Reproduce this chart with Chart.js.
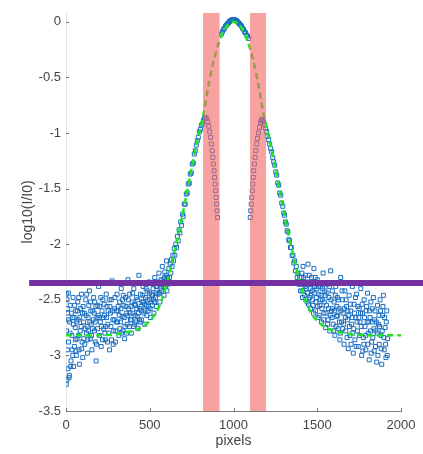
<!DOCTYPE html>
<html>
<head>
<meta charset="utf-8">
<script src="https://cdn.jsdelivr.net/npm/chart.js@4/dist/chart.umd.min.js"></script>
<style>
  body { margin: 0; background: #fff; }
  canvas { display: block; }
</style>
</head>
<body>
<canvas id="chart" width="423" height="454"></canvas>
<script>
// axis ticks
const xTicks = [0, 500, 1000, 1500, 2000];
const yTicks = [-3.5, -3, -2.5, -2, -1.5, -1, -0.5, 0];

// fitted curve
const fitX = [0, 100, 200, 300, 400, 450, 500, 540, 570, 600, 630, 660, 690, 720, 750, 780, 800, 820, 850, 880, 910, 940, 970, 1000,
  1030, 1060, 1090, 1120, 1150, 1180, 1200, 1220, 1250, 1280, 1310, 1340, 1370, 1400, 1430, 1460, 1500, 1550, 1600, 1700, 1800, 1900, 2010];
const fitY = [-2.82, -2.82, -2.82, -2.81, -2.78, -2.75, -2.69, -2.61, -2.51, -2.36, -2.18, -1.99, -1.78, -1.55, -1.32, -1.10, -0.97, -0.84, -0.58, -0.36, -0.2, -0.09, -0.02, 0,
  -0.02, -0.09, -0.2, -0.36, -0.58, -0.84, -0.97, -1.10, -1.32, -1.55, -1.78, -1.99, -2.18, -2.36, -2.51, -2.61, -2.69, -2.75, -2.78, -2.81, -2.82, -2.82, -2.82];

// measured points, left background
const tailLeft = [[5,-3.22],[12,-3.12],[8,-2.95],[3,-2.78],[10,-2.62],[6,-2.5],[15,-2.88],[20,-3.18],[22,-2.7],[25,-2.55],[30,-3.05],[35,-2.82],
  [38,-2.66],[42,-2.48],[45,-3.1],[50,-2.92],[55,-2.75],[58,-2.6],[62,-3.0],[66,-2.85],[70,-2.52],[72,-2.68],[78,-2.95],[80,-3.08],[85,-2.78],
  [88,-2.58],[92,-2.45],[96,-2.88],[100,-3.02],[105,-2.7],[110,-2.62],[112,-2.9],[118,-2.5],[122,-2.8],[128,-2.98],[132,-2.66],[136,-2.55],
  [140,-2.42],[145,-2.85],[150,-2.72],[155,-2.95],[160,-2.6],[165,-2.48],[170,-2.78],[175,-2.88],[180,-3.05],[185,-2.66],[190,-2.55],[195,-2.38],
  [200,-2.82],[205,-2.7],[210,-2.92],[215,-2.6],[220,-2.5],[225,-2.76],[230,-2.64],[235,-2.86],[240,-2.45],[245,-2.56],[250,-2.72],[255,-2.8],
  [260,-2.95],[265,-2.62],[270,-2.5],[275,-2.33],[280,-2.68],[285,-2.78],[290,-2.58],[295,-2.88],[300,-2.7],[305,-2.45],[310,-2.6],[315,-2.82],
  [320,-2.52],[325,-2.7],[330,-2.4],[335,-2.65],[340,-2.78],[345,-2.55],[350,-2.85],[355,-2.48],[360,-2.62],[365,-2.72],[370,-2.32],[375,-2.58],
  [380,-2.45],[385,-2.68],[390,-2.8],[395,-2.52],[400,-2.62],[405,-2.4],[410,-2.72],[415,-2.55],[420,-2.48],[425,-2.65],[430,-2.76],[435,-2.28],
  [440,-2.58],[445,-2.45],[450,-2.68],[455,-2.52],[460,-2.38],[465,-2.62],[470,-2.72],[475,-2.48],[480,-2.55],[485,-2.42],[490,-2.6],[495,-2.34],
  [500,-2.5],[505,-2.66],[510,-2.45],[515,-2.55],[520,-2.4],[525,-2.62],[530,-2.3],[535,-2.48],[540,-2.56],[545,-2.38],[550,-2.45],[555,-2.26],
  [560,-2.52],[565,-2.35],[570,-2.42],[575,-2.2],[580,-2.32],[585,-2.46],[590,-2.25],[595,-2.38],[600,-2.15],
  [2,-3.26],[18,-3.2],[28,-3.1],[40,-3.0],[60,-2.96],[2,-2.45],[14,-2.44],
  [48,-2.66],[74,-2.82],[102,-2.56],[126,-2.74],[148,-2.6],[172,-2.52],[198,-2.66],[218,-2.86],[238,-2.74],[262,-2.56],[282,-2.9],[302,-2.6],
  [322,-2.76],[342,-2.46],[362,-2.8],[382,-2.62],[402,-2.74],[422,-2.58],[442,-2.7],[462,-2.52],[482,-2.64],[502,-2.58],[522,-2.5],[542,-2.44],
  [562,-2.4],[582,-2.38],
  [8,-2.58],[16,-2.68],[24,-2.8],[32,-2.62],[36,-2.95],[44,-2.72],[52,-2.55],[56,-2.86],[64,-2.7],[68,-2.6],[76,-2.48],[82,-2.66],[90,-2.74],
  [94,-2.94],[98,-2.62],[106,-2.85],[114,-2.76],[120,-2.64],[124,-2.45],[130,-2.86],[134,-2.78],[142,-2.7],[146,-2.52],[152,-2.82],[158,-2.76],
  [162,-2.68],[168,-2.62],[174,-2.7],[178,-2.56],[182,-2.9],[188,-2.76],[192,-2.64],[202,-2.56],[208,-2.48],[212,-2.74],[222,-2.66],[228,-2.54],
  [232,-2.8],[242,-2.66],[248,-2.88],[252,-2.6],[258,-2.5],[268,-2.74],[272,-2.86],[278,-2.6],[288,-2.68],[292,-2.48],[298,-2.78],[308,-2.7],
  [312,-2.56],[318,-2.64],[328,-2.58],[332,-2.8],[338,-2.5],[348,-2.66],[352,-2.74],[358,-2.56],[368,-2.64],[372,-2.5],[378,-2.74],[388,-2.56],
  [392,-2.68],[398,-2.44],[408,-2.54],[412,-2.64],[418,-2.7],[428,-2.5],[432,-2.62],[438,-2.68],[448,-2.56],[452,-2.6],[458,-2.46],[468,-2.54],
  [472,-2.6],[478,-2.4],[488,-2.5],[492,-2.56],[498,-2.44],[508,-2.52],[518,-2.46],[528,-2.52],[538,-2.38],[548,-2.34],[558,-2.44],[568,-2.32],
  [578,-2.36],[588,-2.3],[598,-2.28]];

// measured points, right background
const tailRight = [[1405,-2.3],[1410,-2.42],[1415,-2.2],[1420,-2.36],[1425,-2.46],[1430,-2.28],[1435,-2.4],[1440,-2.52],[1445,-2.18],[1450,-2.35],
  [1455,-2.48],[1460,-2.58],[1465,-2.3],[1470,-2.42],[1475,-2.55],[1480,-2.22],[1485,-2.38],[1490,-2.6],[1495,-2.48],[1500,-2.32],[1505,-2.66],
  [1510,-2.45],[1515,-2.55],[1520,-2.38],[1525,-2.7],[1530,-2.5],[1535,-2.26],[1540,-2.62],[1545,-2.42],[1550,-2.75],[1555,-2.55],[1560,-2.36],
  [1565,-2.68],[1570,-2.48],[1575,-2.78],[1580,-2.24],[1585,-2.6],[1590,-2.42],[1595,-2.72],[1600,-2.52],[1605,-2.82],[1610,-2.38],[1615,-2.65],
  [1620,-2.48],[1625,-2.76],[1630,-2.58],[1635,-2.86],[1640,-2.3],[1645,-2.7],[1650,-2.5],[1655,-2.62],[1660,-2.9],[1665,-2.42],[1670,-2.78],
  [1675,-2.56],[1680,-2.68],[1685,-2.94],[1690,-2.46],[1695,-2.82],[1700,-2.6],[1705,-2.72],[1710,-2.38],[1715,-2.98],[1720,-2.54],[1725,-2.86],
  [1730,-2.66],[1735,-2.45],[1740,-2.78],[1745,-2.92],[1750,-2.58],[1755,-2.7],[1760,-2.4],[1765,-3.0],[1770,-2.62],[1775,-2.84],[1780,-2.5],
  [1785,-2.74],[1790,-2.95],[1795,-2.56],[1800,-2.44],[1805,-2.8],[1810,-3.04],[1815,-2.66],[1820,-2.52],[1825,-2.88],[1830,-2.7],[1835,-2.48],
  [1840,-2.96],[1845,-2.6],[1850,-2.78],[1855,-3.06],[1860,-2.55],[1865,-2.72],[1870,-2.9],[1875,-2.5],[1880,-2.82],[1885,-3.08],[1890,-2.64],
  [1895,-2.46],[1900,-2.95],[1905,-2.75],[1910,-3.02],[1915,-2.6],[1920,-2.85],
  [1458,-2.4],[1518,-2.5],[1548,-2.46],[1588,-2.66],[1618,-2.56],[1658,-2.72],[1688,-2.64],[1718,-2.76],[1748,-2.66],[1778,-2.9],[1808,-2.7],
  [1838,-2.76],[1868,-2.64],[1898,-2.84],
  [1402,-2.36],[1408,-2.26],[1412,-2.48],[1418,-2.3],[1428,-2.38],[1432,-2.5],[1438,-2.34],[1442,-2.44],[1448,-2.54],[1452,-2.28],[1462,-2.46],
  [1468,-2.36],[1472,-2.5],[1478,-2.62],[1482,-2.44],[1488,-2.3],[1492,-2.52],[1498,-2.4],[1502,-2.56],[1508,-2.38],[1512,-2.64],[1522,-2.46],
  [1528,-2.58],[1532,-2.4],[1538,-2.68],[1542,-2.52],[1552,-2.62],[1558,-2.44],[1562,-2.72],[1568,-2.58],[1572,-2.38],[1578,-2.64],[1582,-2.5],
  [1592,-2.58],[1598,-2.78],[1602,-2.6],[1608,-2.46],[1612,-2.74],[1622,-2.64],[1628,-2.5],[1632,-2.7],[1638,-2.8],[1642,-2.6],[1648,-2.42],
  [1652,-2.76],[1662,-2.58],[1668,-2.66],[1672,-2.5],[1678,-2.84],[1682,-2.6],[1692,-2.74],[1698,-2.54],[1702,-2.9],[1708,-2.66],[1712,-2.8],
  [1722,-2.62],[1728,-2.48],[1732,-2.92],[1738,-2.7],[1742,-2.56],[1752,-2.82],[1758,-2.62],[1762,-2.74],[1768,-2.54],[1772,-2.96],[1782,-2.66],
  [1788,-2.82],[1792,-2.6],[1798,-2.7],[1802,-2.9],[1812,-2.6],[1818,-2.78],[1822,-2.98],[1828,-2.58],[1832,-2.84],[1842,-2.68],[1848,-2.92],
  [1852,-2.7],[1858,-2.8],[1862,-3.0],[1872,-2.74],[1878,-2.6],[1882,-2.94],[1888,-2.78],[1892,-2.56],[1902,-2.66],[1908,-2.9],[1912,-2.7],
  [1918,-3.0]];

// measured points on the flanks and the peak
const slopeLeft = [[603,-2.42],[606,-2.3],[610,-2.36],[614,-2.22],[618,-2.3],[622,-2.18],[626,-2.26],[630,-2.14],[634,-2.2],[638,-2.1],[642,-2.15],
  [646,-2.04],[650,-2.1],[655,-2.0],[660,-2.03],[665,-1.93],[670,-1.97],[675,-1.87],[680,-1.9],[685,-1.8],[690,-1.83],[695,-1.73],[700,-1.75],
  [706,-1.64],[712,-1.64],[718,-1.55],[724,-1.54],[730,-1.46],[736,-1.45],[742,-1.37],[748,-1.36],[754,-1.28],[760,-1.27],[766,-1.19],[772,-1.16],
  [778,-1.11],[784,-1.07],[790,-1.04],[796,-0.99],[802,-0.97],[808,-0.93],[814,-0.92],[820,-0.89],[826,-0.87],[832,-0.86]];
const slopeRight = [[1168,-0.88],[1174,-0.89],[1180,-0.9],[1186,-0.93],[1192,-0.96],[1198,-0.99],[1204,-1.03],[1210,-1.06],[1216,-1.1],[1222,-1.14],
  [1228,-1.17],[1234,-1.22],[1240,-1.26],[1246,-1.29],[1252,-1.35],[1258,-1.38],[1264,-1.45],[1270,-1.47],[1276,-1.54],[1282,-1.56],[1288,-1.63],
  [1294,-1.66],[1300,-1.72],[1305,-1.74],[1310,-1.8],[1315,-1.82],[1320,-1.88],[1325,-1.89],[1330,-1.96],[1335,-1.97],[1340,-2.03],[1345,-2.03],
  [1350,-2.1],[1355,-2.1],[1360,-2.17],[1365,-2.15],[1370,-2.24],[1375,-2.2],[1380,-2.3],[1385,-2.26],[1390,-2.36],[1395,-2.3],[1400,-2.42]];
const peak = [[928,-0.11],[934,-0.09],[940,-0.07],[946,-0.06],[952,-0.04],[958,-0.03],[964,-0.02],[970,-0.01],[976,0.0],[982,0.01],[988,0.01],
  [994,0.02],[1000,0.02],[1006,0.02],[1012,0.01],[1018,0.01],[1024,0.0],[1030,-0.01],[1036,-0.02],[1042,-0.03],[1048,-0.04],[1054,-0.06],
  [1060,-0.07],[1066,-0.09],[1072,-0.1],[1078,-0.12],[1084,-0.13],[1090,-0.15]];
const dipLeft = [[840,-0.87],[846,-0.9],[852,-0.94],[858,-0.99],[863,-1.04],[868,-1.1],[872,-1.16],[876,-1.22],[880,-1.28],[884,-1.34],[887,-1.4],
  [890,-1.46],[893,-1.52],[896,-1.58],[899,-1.64],[902,-1.7],[905,-1.76]];
const dipRight = [[1100,-1.76],[1103,-1.7],[1106,-1.64],[1109,-1.58],[1112,-1.52],[1115,-1.46],[1118,-1.4],[1121,-1.34],[1125,-1.28],[1129,-1.22],
  [1133,-1.16],[1138,-1.1],[1143,-1.05],[1149,-1.0],[1155,-0.95],[1161,-0.91],[1166,-0.89]];

// masked bands and threshold
const bands = [[818, 918], [1098, 1194]];
const thresholdY = -2.35;
const thresholdX = [-220, 2150];

const yTop = 0.08;

function toPts(pairs) {
    return pairs.map(function (p) { return { x: p[0], y: p[1] }; });
}

const allPoints = toPts([].concat(tailLeft, slopeLeft, dipLeft, peak, dipRight, slopeRight, tailRight));
const fitPoints = fitX.map(function (x, i) { return { x: x, y: fitY[i] }; });

const datasets = [];

datasets.push({
    type: "line",
    data: [{ x: thresholdX[0], y: thresholdY }, { x: thresholdX[1], y: thresholdY }],
    borderColor: "#7331a3",
    borderWidth: 6,
    pointRadius: 0,
    clip: false,
    order: 0
});

bands.forEach(function (b) {
    datasets.push({
        type: "line",
        data: [{ x: b[0], y: yTop }, { x: b[1], y: yTop }],
        borderWidth: 0,
        pointRadius: 0,
        fill: "start",
        backgroundColor: "rgba(242,104,104,0.62)",
        order: 1
    });
});

datasets.push({
    type: "line",
    data: fitPoints,
    borderColor: "#1fe61f",
    borderWidth: 2.5,
    borderDash: [6, 4],
    pointRadius: 0,
    tension: 0.3,
    order: 2
});

datasets.push({
    type: "scatter",
    data: allPoints,
    pointStyle: "rect",
    pointRadius: 2.8,
    borderWidth: 1,
    borderColor: "#1c6fc2",
    backgroundColor: "rgba(0,0,0,0)",
    order: 3
});

const innerTicks = {
    id: "innerTicks",
    afterDraw(chart) {
        const ctx = chart.ctx;
        const xs = chart.scales.x;
        const ys = chart.scales.y;
        const area = chart.chartArea;
        ctx.save();
        ctx.strokeStyle = "#777";
        ctx.lineWidth = 1;
        ctx.beginPath();
        xTicks.forEach(function (v) {
            const px = Math.round(xs.getPixelForValue(v)) + 0.5;
            ctx.moveTo(px, area.bottom);
            ctx.lineTo(px, area.bottom - 3);
        });
        yTicks.forEach(function (v) {
            const py = Math.round(ys.getPixelForValue(v)) + 0.5;
            ctx.moveTo(area.left, py);
            ctx.lineTo(area.left + 3, py);
        });
        ctx.stroke();
        ctx.restore();
    }
};

const tickFont = { family: "'Liberation Sans', Arial, sans-serif", size: 13 };

new Chart(document.getElementById("chart"), {
    type: "scatter",
    data: { datasets: datasets },
    options: {
        responsive: false,
        animation: false,
        layout: { padding: { left: 0, top: 7, right: 22, bottom: 0 } },
        plugins: {
            legend: { display: false },
            tooltip: { enabled: false }
        },
        scales: {
            x: {
                type: "linear",
                min: 0,
                max: 2000,
                afterFit: function (scale) { scale.height = 43; },
                afterBuildTicks: function (scale) { scale.ticks = xTicks.map(function (v) { return { value: v }; }); },
                grid: { drawOnChartArea: false, drawTicks: false },
                border: { color: "#7a7a7a", width: 1 },
                ticks: {
                    padding: 7,
                    color: "#444",
                    font: tickFont,
                    maxRotation: 0,
                    callback: function (v) { return String(v); }
                },
                title: {
                    display: true,
                    text: "pixels",
                    color: "#444",
                    font: { family: "'Liberation Sans', Arial, sans-serif", size: 14 },
                    padding: { top: 0, bottom: 4 }
                }
            },
            y: {
                type: "linear",
                min: -3.5,
                max: yTop,
                afterFit: function (scale) { scale.width = 66; },
                afterBuildTicks: function (scale) { scale.ticks = yTicks.map(function (v) { return { value: v }; }); },
                grid: { drawOnChartArea: false, drawTicks: false },
                border: { color: "#e4e4e4", width: 1 },
                ticks: {
                    padding: 5,
                    color: "#444",
                    font: tickFont,
                    callback: function (v) { return String(Math.round(v * 10) / 10); }
                },
                title: {
                    display: true,
                    text: "log10(I/I0)",
                    color: "#444",
                    font: { family: "'Liberation Sans', Arial, sans-serif", size: 14 },
                    padding: { top: 20, bottom: 0 }
                }
            }
        }
    },
    plugins: [innerTicks]
});
</script>
</body>
</html>
